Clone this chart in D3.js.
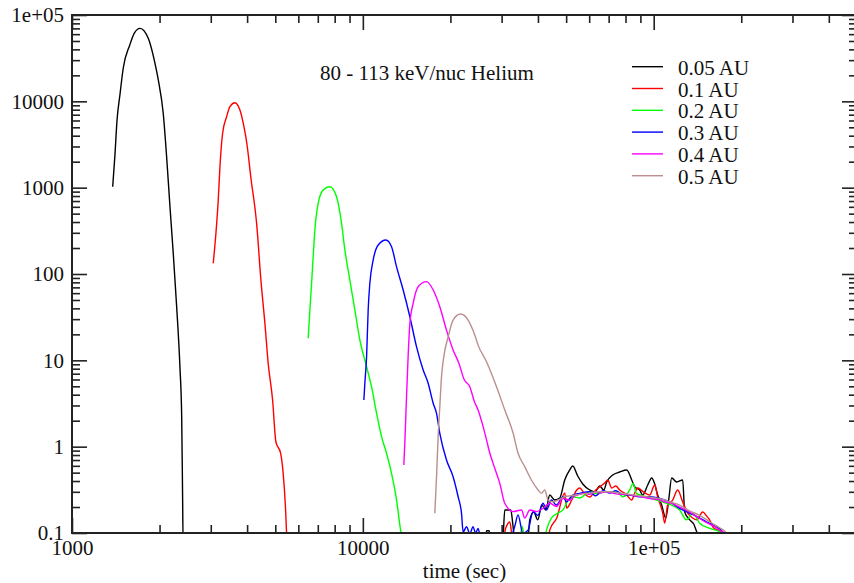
<!DOCTYPE html>
<html>
<head>
<meta charset="utf-8">
<script src="https://cdn.jsdelivr.net/npm/d3@7"></script>
<style>
  html, body { margin: 0; padding: 0; background: #fff; }
  svg { display: block; }
  text { font-family: "Liberation Serif", "Times New Roman", serif; fill: #111; }
</style>
</head>
<body>
<svg id="chart" width="854" height="583"></svg>
<script>
// ---------------- data (time in sec, intensity) ----------------
const seriesNames = ["0.05 AU", "0.1 AU", "0.2 AU", "0.3 AU", "0.4 AU", "0.5 AU"];
const seriesColors = ["#000000", "#ff0000", "#00ff00", "#0000ff", "#ff00ff", "#bc8f8f"];

const au005 = [
  [1380,1026],[1405,2400],[1428,6000],[1462,12000],[1501,24500],[1580,45000],[1640,62000],[1713,70000],
  [1829,53700],[1929,27500],[1980,17700],[2059,7270],[2115,2285],[2172,601],[2229,174],[2290,41.8],
  [2350,8.4],[2383,2.22],[2400,0.275],[2410,0.08],
  [26400,0.083],[26620,0.106],[27200,0.106],[27400,0.083],
  [30270,0.083],[30760,0.185],[32260,0.185],[32780,0.127],[33300,0.083],[36900,0.083],[37490,0.142],
  [38700,0.175],[39950,0.142],[41220,0.211],[42560,0.185],[43920,0.275],[45690,0.241],[47530,0.254],
  [49440,0.411],[51440,0.537],[52670,0.597],[54810,0.457],[57020,0.370],[60270,0.315],[62700,0.298],
  [65220,0.350],[67330,0.315],[68940,0.390],[72310,0.470],[76430,0.509],[80790,0.537],[84050,0.411],
  [86070,0.341],[89510,0.315],[91650,0.275],[95380,0.360],[98430,0.434],[100800,0.370],[103200,0.275],
  [106500,0.211],[110000,0.149],[112600,0.241],[115300,0.434],[120000,0.390],[125800,0.411],
  [127800,0.175],[133000,0.142],[137300,0.127],[140600,0.103],[146200,0.083]
];

const au01 = [
  [3059,133],[3125,296],[3183,719],[3226,1750],[3295,4265],[3401,6640],[3491,8670],[3632,9640],
  [3779,7940],[3901,5080],[3990,3290],[4122,1294],[4313,386],[4462,85],[4605,26.8],[4727,9.2],
  [4894,3.47],[5023,1.14],[5214,0.84],[5322,0.49],[5425,0.185],[5468,0.1],[5500,0.08],
  [30270,0.083],[31000,0.114],[32010,0.134],[32780,0.083],
  [43230,0.083],[43920,0.108],[46410,0.149],[49440,0.291],[50230,0.195],[52270,0.241],[54380,0.315],
  [55690,0.332],[57930,0.283],[60270,0.261],[63200,0.315],[65750,0.350],[67860,0.379],[69490,0.411],
  [71730,0.332],[74050,0.350],[76430,0.315],[80150,0.283],[84050,0.241],[86070,0.291],[88100,0.332],
  [92380,0.298],[96890,0.275],[100800,0.360],[103200,0.261],[107400,0.170],[109100,0.130],
  [111700,0.211],[116200,0.241],[120900,0.315],[125800,0.229],[130900,0.170],[136100,0.149],
  [140600,0.142],[147400,0.175],[152100,0.157],[155700,0.142],[160800,0.114],[166000,0.108],
  [171300,0.103],[175400,0.083]
];

const au02 = [
  [6487,18.0],[6575,38.3],[6664,78],[6748,158],[6840,324],[7021,659],[7305,940],[7702,1026],
  [8121,785],[8449,386],[8673,190],[9023,85],[9387,38.3],[9765,17.2],[10300,8.43],[10710,4.95],
  [11150,2.43],[11600,1.30],[12060,0.84],[12550,0.49],[13060,0.241],[13510,0.103],[13700,0.08],
  [34630,0.083],[35300,0.12],[36030,0.083],
  [42000,0.083],[42800,0.108],[44520,0.149],[46900,0.170],[48790,0.185],[50760,0.241],[52800,0.263],
  [55700,0.254],[60270,0.301],[63550,0.288],[68800,0.301],[74440,0.301],[78450,0.263],[82730,0.315],
  [84900,0.376],[87200,0.288],[94400,0.263],[102200,0.241],[110600,0.221],[122800,0.185],
  [129600,0.142],[136500,0.170],[143900,0.130],[155700,0.113],[168600,0.103],[175400,0.083]
];

const au03 = [
  [10080,3.47],[10160,5.42],[10300,11.0],[10430,38.3],[10570,78],[10850,145],[11290,217],[12000,248],
  [12550,207],[13060,121],[13760,65.3],[14510,32.0],[15290,14.4],[16120,7.73],[16770,5.42],
  [17450,3.18],[17920,2.43],[18390,1.43],[19390,0.70],[20430,0.449],[21260,0.263],[21840,0.169],
  [22120,0.103],[22720,0.118],[23320,0.098],[23930,0.118],[24400,0.10],[24900,0.113],[25500,0.083],
  [32000,0.083],[33300,0.12],[34170,0.162],[35460,0.10],[36980,0.108],[38480,0.177],[39950,0.16],
  [41650,0.221],[42800,0.185],[44520,0.241],[46290,0.211],[48790,0.263],[50110,0.230],[52670,0.275],
  [55700,0.288],[60270,0.30],[63000,0.27],[67000,0.31],[70620,0.29],[74000,0.31],[78000,0.28],
  [82730,0.275],[89510,0.263],[96890,0.263],[104900,0.252],[113500,0.230],[122800,0.193],
  [137000,0.162],[151800,0.135],[164300,0.118],[172600,0.103],[176000,0.083]
];

const au04 = [
  [13830,0.612],[13940,1.09],[14130,3.79],[14310,11.0],[14510,26.8],[14890,45.8],[15490,71.3],
  [16550,81.5],[17450,65.3],[18390,41.8],[19390,22.4],[20430,13.2],[21400,9.2],[22300,6.0],
  [23320,4.95],[24200,3.3],[24900,2.66],[25800,1.8],[26620,1.2],[27300,0.85],[28040,0.64],
  [29570,0.376],[30760,0.221],[32850,0.177],[35120,0.185],[36030,0.149],[37490,0.185],[39540,0.177],
  [41650,0.193],[43920,0.221],[46290,0.203],[48790,0.252],[51440,0.24],[53500,0.27],[55700,0.28],
  [58000,0.29],[60270,0.28],[63000,0.30],[65220,0.29],[68900,0.30],[72300,0.29],[76430,0.28],
  [80800,0.28],[86000,0.27],[91650,0.26],[96900,0.25],[103200,0.245],[109100,0.23],[115300,0.22],
  [122800,0.20],[130900,0.18],[140600,0.155],[150000,0.135],[160800,0.12],[168600,0.108],
  [175400,0.10],[180000,0.09]
];

const au05 = [
  [17680,0.169],[17920,0.449],[18150,1.30],[18390,2.90],[18640,6.46],[18980,11.0],[19650,18.8],
  [20430,29.3],[21670,34.4],[23010,29.3],[24260,19.6],[24900,15.0],[26620,9.64],[28810,4.95],
  [30760,2.66],[32850,1.44],[34170,0.84],[36030,0.587],[37980,0.411],[40040,0.315],[41130,0.288],
  [42210,0.315],[43340,0.241],[45080,0.230],[46900,0.241],[49440,0.263],[52000,0.27],[55700,0.28],
  [60270,0.29],[65220,0.30],[70620,0.30],[76430,0.29],[82730,0.28],[89510,0.27],[96890,0.26],
  [104900,0.25],[113500,0.23],[122800,0.21],[133000,0.18],[143900,0.16],[155700,0.135],
  [168600,0.115],[178000,0.10],[182000,0.09]
];

const allSeries = [au005, au01, au02, au03, au04, au05];

const xTickValues = [1000, 10000, 100000];
const xTickLabels = ["1000", "10000", "1e+05"];
const yTickValues = [0.1, 1, 10, 100, 1000, 10000, 100000];
const yTickLabels = ["0.1", "1", "10", "100", "1000", "10000", "1e+05"];

const titleText = "80 - 113 keV/nuc Helium";
const xAxisTitle = "time (sec)";

// ---------------- layout ----------------
const W = 854, H = 583;
const L = 72, R = 857, T = 15, B = 533;
const FONT = 21;

const svg = d3.select("#chart");
svg.append("rect").attr("width", W).attr("height", H).attr("fill", "#fff");

const x = d3.scaleLog().domain([1000, 500000]).range([L, R]);
const y = d3.scaleLog().domain([0.1, 100000]).range([B, T]);

const xMinor = x.ticks().filter(v => !xTickValues.includes(v));
const yMinor = y.ticks().filter(v => !yTickValues.some(t => Math.abs(t - v) / v < 1e-9));

const axisColor = "#222";

function styleAxis(g) {
  g.select(".domain").remove();
  g.selectAll(".tick line").attr("stroke", axisColor).attr("stroke-width", 1.6);
  g.selectAll(".tick text").attr("font-size", FONT).attr("fill", "#111")
    .attr("font-family", "Liberation Serif, Times New Roman, serif");
}

// bottom axis
svg.append("g").attr("transform", `translate(0,${B})`)
  .call(d3.axisBottom(x).tickValues(xTickValues).tickSize(-15).tickPadding(7)
    .tickFormat((d, i) => xTickLabels[i]))
  .call(styleAxis);
svg.append("g").attr("transform", `translate(0,${B})`)
  .call(d3.axisBottom(x).tickValues(xMinor).tickSize(-8).tickFormat(""))
  .call(styleAxis);
// top axis
svg.append("g").attr("transform", `translate(0,${T})`)
  .call(d3.axisTop(x).tickValues(xTickValues).tickSize(-15).tickFormat(""))
  .call(styleAxis);
svg.append("g").attr("transform", `translate(0,${T})`)
  .call(d3.axisTop(x).tickValues(xMinor).tickSize(-8).tickFormat(""))
  .call(styleAxis);
// left axis
svg.append("g").attr("transform", `translate(${L},0)`)
  .call(d3.axisLeft(y).tickValues(yTickValues).tickSize(-15).tickPadding(8)
    .tickFormat((d, i) => yTickLabels[i]))
  .call(styleAxis);
svg.append("g").attr("transform", `translate(${L},0)`)
  .call(d3.axisLeft(y).tickValues(yMinor).tickSize(-8).tickFormat(""))
  .call(styleAxis);
// right axis
svg.append("g").attr("transform", `translate(${R},0)`)
  .call(d3.axisRight(y).tickValues(yTickValues).tickSize(-15).tickFormat(""))
  .call(styleAxis);
svg.append("g").attr("transform", `translate(${R},0)`)
  .call(d3.axisRight(y).tickValues(yMinor).tickSize(-8).tickFormat(""))
  .call(styleAxis);

// frame
svg.append("rect").attr("x", L).attr("y", T).attr("width", R - L).attr("height", B - T)
  .attr("fill", "none").attr("stroke", axisColor).attr("stroke-width", 2);

// clip
svg.append("clipPath").attr("id", "plotclip")
  .append("rect").attr("x", L).attr("y", T).attr("width", R - L).attr("height", B - T - 1);

const line = d3.line().x(d => x(d[0])).y(d => y(d[1])).curve(d3.curveMonotoneX);
const plot = svg.append("g").attr("clip-path", "url(#plotclip)");
allSeries.forEach((s, i) => {
  plot.append("path").datum(s).attr("d", line)
    .attr("fill", "none").attr("stroke", seriesColors[i]).attr("stroke-width", 1.4)
    .attr("stroke-linejoin", "round");
});

// title
svg.append("text").attr("x", 320).attr("y", 80).attr("font-size", FONT).text(titleText);

// x axis title
svg.append("text").attr("x", (L + R) / 2).attr("y", 578).attr("text-anchor", "middle")
  .attr("font-size", FONT).text(xAxisTitle);

// legend
const legend = svg.append("g");
seriesNames.forEach((name, i) => {
  const ly = 66.7 + i * 21.8;
  legend.append("line").attr("x1", 632).attr("x2", 663).attr("y1", ly).attr("y2", ly)
    .attr("stroke", seriesColors[i]).attr("stroke-width", 1.4);
  legend.append("text").attr("x", 678).attr("y", ly + 8).attr("font-size", FONT).text(name);
});
</script>
</body>
</html>
